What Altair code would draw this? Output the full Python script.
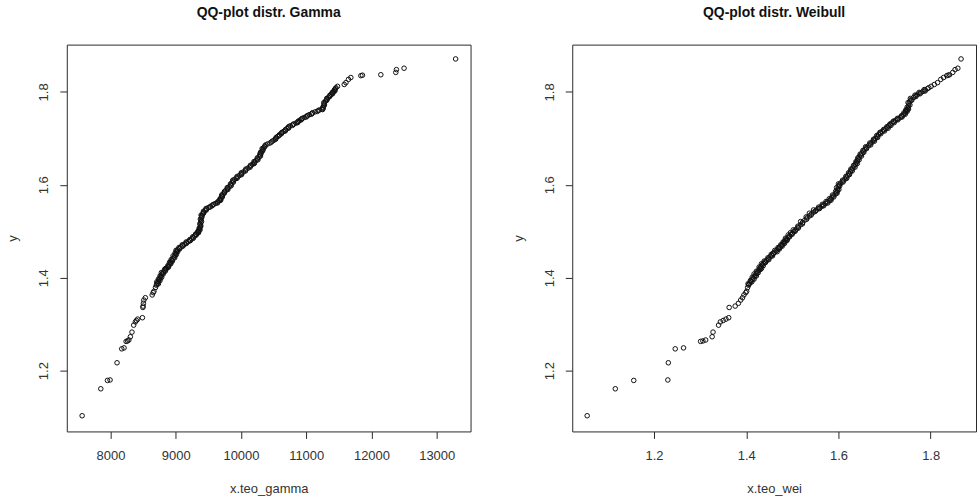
import altair as alt
import pandas as pd

# sorted sample (shared y of both QQ-plots)
y_vals = [
    1.103, 1.161, 1.179, 1.180, 1.217, 1.247, 1.249, 1.263, 1.264, 1.266,
    1.273, 1.283, 1.298, 1.305, 1.308, 1.311, 1.314, 1.336, 1.339, 1.345,
    1.352, 1.357, 1.363, 1.368, 1.371, 1.379, 1.384,
    1.386, 1.389, 1.392, 1.396, 1.399, 1.403, 1.406, 1.409, 1.412, 1.416,
    1.419, 1.421, 1.424, 1.428, 1.431, 1.434, 1.437, 1.441, 1.445, 1.448,
    1.452, 1.455, 1.458, 1.460, 1.463, 1.466, 1.469, 1.472, 1.475, 1.478,
    1.481, 1.484, 1.487, 1.490, 1.493, 1.496, 1.499, 1.502, 1.505, 1.509,
    1.514, 1.519, 1.524, 1.529, 1.533, 1.537, 1.541, 1.545, 1.548, 1.551,
    1.554, 1.557, 1.560, 1.563, 1.566, 1.569, 1.572, 1.576, 1.580, 1.584,
    1.588, 1.592, 1.596, 1.600, 1.604, 1.608, 1.612, 1.616, 1.620, 1.624,
    1.628, 1.632, 1.636, 1.640, 1.644, 1.648, 1.652, 1.656, 1.660, 1.664,
    1.668, 1.672, 1.676, 1.680, 1.684, 1.688, 1.692, 1.696, 1.700, 1.704,
    1.708, 1.712, 1.715, 1.718, 1.721, 1.724, 1.727, 1.730, 1.733, 1.736,
    1.739, 1.742, 1.745, 1.748, 1.751, 1.754, 1.757, 1.760, 1.762, 1.765,
    1.770, 1.775, 1.780, 1.784, 1.788, 1.792, 1.795, 1.798, 1.801, 1.804,
    1.807,
    1.809, 1.812, 1.816, 1.820, 1.827, 1.831, 1.835, 1.836, 1.837, 1.842,
    1.848, 1.851, 1.871,
    # further readings across the thick (overplotted) band
    1.387, 1.391, 1.394, 1.397, 1.401, 1.404, 1.408, 1.411, 1.414, 1.418,
    1.420, 1.423, 1.426, 1.430, 1.433, 1.436, 1.439, 1.443, 1.447, 1.450,
    1.453, 1.456, 1.459, 1.462, 1.465, 1.468, 1.471, 1.474, 1.477, 1.480,
    1.482, 1.485, 1.488, 1.492, 1.494, 1.497, 1.500, 1.503, 1.507, 1.511,
    1.516, 1.521, 1.526, 1.531, 1.535, 1.539, 1.543, 1.546, 1.549, 1.552,
    1.555, 1.558, 1.561, 1.564, 1.567, 1.570, 1.574, 1.578, 1.582, 1.586,
    1.590, 1.594, 1.598, 1.602, 1.606, 1.610, 1.614, 1.618, 1.622, 1.626,
    1.630, 1.634, 1.638, 1.642, 1.646, 1.650, 1.654, 1.658, 1.662, 1.666,
    1.670, 1.674, 1.678, 1.682, 1.686, 1.690, 1.694, 1.698, 1.702, 1.706,
    1.710, 1.713, 1.716, 1.719, 1.722, 1.725, 1.728, 1.731, 1.734, 1.737,
    1.740, 1.743, 1.746, 1.749, 1.752, 1.755, 1.758, 1.761, 1.763, 1.767,
    1.772, 1.777, 1.782, 1.786, 1.790, 1.793, 1.796, 1.799, 1.802, 1.805,
]

# theoretical gamma quantiles (x of left panel)
x_gamma = [
    7566, 7852, 7954, 7994, 8101, 8173, 8208, 8240, 8262, 8282,
    8305, 8330, 8356, 8382, 8398, 8417, 8490, 8497, 8500, 8505,
    8512, 8535, 8640, 8655, 8667, 8690, 8703,
    8712, 8722, 8735, 8748, 8760, 8772, 8783, 8795, 8808, 8838,
    8855, 8868, 8884, 8900, 8915, 8928, 8940, 8958, 8975, 8990,
    9003, 9010, 9018, 9030, 9055, 9080, 9105, 9135, 9160, 9195,
    9220, 9245, 9268, 9290, 9310, 9328, 9345, 9356, 9365, 9374,
    9380, 9384, 9388, 9392, 9398, 9412, 9430, 9452, 9470, 9500,
    9535, 9570, 9610, 9645, 9672, 9685, 9697, 9710, 9724, 9745,
    9770, 9795, 9820, 9845, 9862, 9877, 9905, 9940, 9975, 10008,
    10040, 10073, 10108, 10142, 10176, 10205, 10230, 10255, 10278, 10295,
    10310, 10323, 10336, 10348, 10368, 10410, 10465, 10505, 10535, 10562,
    10590, 10625, 10655, 10680, 10705, 10728, 10755, 10800, 10845, 10875,
    10900, 10930, 10970, 11010, 11047, 11090, 11135, 11185, 11251, 11262,
    11268, 11276, 11295, 11318, 11340, 11365, 11385, 11405, 11420, 11435,
    11448,
    11456, 11480, 11583, 11609, 11648, 11684, 11838, 11862, 12144, 12373,
    12383, 12500, 13290,
    8735, 8710, 8760, 8735, 8785, 8760, 8808, 8780, 8840, 8830,
    8845, 8890, 8880, 8925, 8905, 8950, 8930, 8985, 8960, 9010,
    8990, 9030, 9005, 9060, 9050, 9110, 9100, 9165, 9160, 9225,
    9215, 9270, 9260, 9315, 9305, 9350, 9340, 9372, 9360, 9385,
    9370, 9395, 9378, 9402, 9390, 9428, 9425, 9470, 9465, 9525,
    9560, 9580, 9640, 9650, 9690, 9680, 9715, 9705, 9745, 9750,
    9800, 9790, 9850, 9840, 9885, 9875, 9940, 9940, 10010, 10005,
    10070, 10075, 10140, 10145, 10205, 10200, 10260, 10250, 10300, 10290,
    10300, 10335, 10325, 10365, 10380, 10445, 10480, 10530, 10540, 10585,
    10620, 10630, 10680, 10685, 10730, 10730, 10790, 10810, 10870, 10880,
    10925, 10940, 11000, 11020, 11080, 11095, 11170, 11200, 11240, 11255,
    11280, 11270, 11315, 11315, 11360, 11365, 11405, 11400, 11440, 11435,
]

# theoretical Weibull quantiles (x of right panel)
x_weibull = [
    1.055, 1.116, 1.156, 1.230, 1.231, 1.246, 1.264, 1.301, 1.306, 1.312,
    1.326, 1.328, 1.340, 1.344, 1.350, 1.356, 1.362, 1.363, 1.376, 1.383,
    1.388, 1.392, 1.395, 1.399, 1.401, 1.403, 1.405,
    1.406, 1.408, 1.410, 1.413, 1.415, 1.418, 1.420, 1.422, 1.424, 1.427,
    1.429, 1.430, 1.432, 1.435, 1.438, 1.440, 1.444, 1.448, 1.452, 1.455,
    1.459, 1.462, 1.465, 1.467, 1.470, 1.473, 1.476, 1.478, 1.481, 1.483,
    1.485, 1.488, 1.491, 1.494, 1.497, 1.500, 1.503, 1.506, 1.509, 1.513,
    1.518, 1.522, 1.527, 1.532, 1.537, 1.541, 1.546, 1.551, 1.555, 1.560,
    1.564, 1.568, 1.572, 1.576, 1.580, 1.583, 1.585, 1.589, 1.593, 1.596,
    1.598, 1.599, 1.600, 1.602, 1.605, 1.610, 1.614, 1.617, 1.620, 1.623,
    1.626, 1.628, 1.631, 1.634, 1.637, 1.639, 1.641, 1.643, 1.645, 1.648,
    1.651, 1.654, 1.657, 1.660, 1.665, 1.669, 1.673, 1.677, 1.680, 1.684,
    1.687, 1.691, 1.695, 1.699, 1.703, 1.706, 1.709, 1.712, 1.716, 1.720,
    1.724, 1.729, 1.734, 1.738, 1.741, 1.744, 1.746, 1.748, 1.749, 1.751,
    1.752, 1.753, 1.755, 1.758, 1.763, 1.768, 1.772, 1.778, 1.783, 1.788,
    1.793,
    1.796, 1.801, 1.808, 1.815, 1.822, 1.828, 1.835, 1.838, 1.841, 1.848,
    1.853, 1.859, 1.866,
    1.404, 1.412, 1.409, 1.417, 1.413, 1.422, 1.417, 1.426, 1.422, 1.431,
    1.433, 1.428, 1.437, 1.433, 1.442, 1.439, 1.449, 1.447, 1.457, 1.454,
    1.458, 1.467, 1.462, 1.472, 1.469, 1.478, 1.475, 1.483, 1.480, 1.488,
    1.489, 1.485, 1.494, 1.491, 1.500, 1.496, 1.506, 1.502, 1.513, 1.512,
    1.522, 1.518, 1.531, 1.530, 1.541, 1.537, 1.550, 1.546, 1.559, 1.557,
    1.568, 1.565, 1.577, 1.573, 1.584, 1.580, 1.590, 1.587, 1.597, 1.594,
    1.601, 1.596, 1.603, 1.600, 1.610, 1.609, 1.618, 1.616, 1.624, 1.622,
    1.630, 1.627, 1.636, 1.633, 1.641, 1.638, 1.645, 1.642, 1.650, 1.647,
    1.655, 1.653, 1.661, 1.659, 1.670, 1.668, 1.678, 1.676, 1.685, 1.683,
    1.692, 1.690, 1.700, 1.698, 1.708, 1.705, 1.714, 1.712, 1.721, 1.719,
    1.729, 1.728, 1.738, 1.737, 1.745, 1.742, 1.749, 1.746, 1.752, 1.749,
    1.755, 1.751, 1.759, 1.756, 1.768, 1.766, 1.777, 1.775, 1.788, 1.786,
]

gamma_ticks = [8000, 9000, 10000, 11000, 12000, 13000]
wei_ticks = [1.2, 1.4, 1.6, 1.8]
y_ticks = [1.2, 1.4, 1.6, 1.8]

assert len(y_vals) == len(x_gamma) == len(x_weibull)

df = pd.DataFrame({"y": y_vals, "x_gamma": x_gamma, "x_wei": x_weibull})

FONT = "Liberation Sans"
INK = "#2a2a2a"
MARK = "#111111"


def panel(xfield, xtitle, xdomain, xticks, xfmt, title):
    return (
        alt.Chart(df)
        .mark_point(shape="circle", filled=False, color=MARK, size=21,
                    strokeWidth=1, opacity=1)
        .encode(
            x=alt.X(f"{xfield}:Q", title=xtitle,
                    scale=alt.Scale(domain=xdomain, nice=False, zero=False),
                    axis=alt.Axis(values=xticks, format=xfmt, labelPadding=11,
                                  titleY=61, titleBaseline="alphabetic")),
            y=alt.Y("y:Q", title="y",
                    scale=alt.Scale(domain=[1.0692, 1.9018], nice=False, zero=False),
                    axis=alt.Axis(values=y_ticks, format=".1f", labelAngle=270,
                                  labelAlign="center", labelBaseline="alphabetic",
                                  labelPadding=12,
                                  titleX=-54, titleY=194, titleAngle=270,
                                  titleAlign="center", titleBaseline="middle")),
        )
        .properties(
            width=405, height=388,
            title=alt.TitleParams(title, fontSize=14, fontWeight="bold", font=FONT,
                                  color="#111", anchor="middle", offset=14,
                                  baseline="alphabetic"),
        )
    )


left = panel("x_gamma", "x.teo_gamma", [7331, 13519], gamma_ticks, "d",
             "QQ-plot distr. Gamma")
right = panel("x_wei", "x.teo_wei", [1.0226, 1.8984], wei_ticks, ".1f",
              "QQ-plot distr. Weibull")

chart = (
    alt.hconcat(left, right, spacing=40)
    .properties(padding={"left": 6, "top": 4, "right": 0, "bottom": 0},
                background="white")
    .configure_view(stroke=INK, strokeWidth=1)
    .configure_axis(grid=False, domain=False, tickColor=INK, tickSize=7, tickWidth=1,
                    labelFont=FONT, labelFontSize=13, labelColor="#333",
                    labelOverlap=False,
                    titleFont=FONT, titleFontSize=13, titleFontWeight="normal",
                    titleColor="#333")
)

chart.save("out.html", embed_options={"renderer": "svg", "actions": False})
